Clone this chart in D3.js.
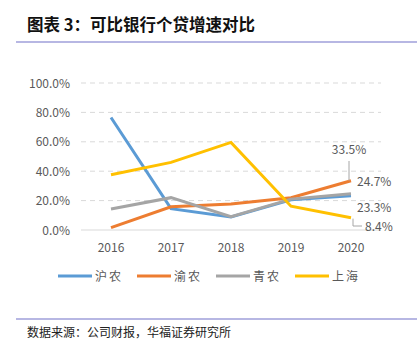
<!DOCTYPE html>
<html>
<head>
<meta charset="utf-8">
<script src="https://cdn.jsdelivr.net/npm/d3@7"></script>
<style>
  body { margin: 0; background: #fff; }
  svg text { font-family: "Noto Sans CJK SC", "Noto Sans", sans-serif; }
</style>
</head>
<body>
<div id="chart"></div>
<script>
const years = ["2016", "2017", "2018", "2019", "2020"];
const huNong = [76.5, 14.5, 8.8, 20.5, 23.3];
const yuNong = [1.6, 15.8, 17.7, 22.0, 33.5];
const qingNong = [14.3, 22.0, 9.0, 21.0, 24.7];
const shangHai = [37.6, 46.0, 59.6, 16.2, 8.4];
const yTicks = [0, 20, 40, 60, 80, 100];

const series = [
    { name: "沪农", values: huNong, color: "#5b9bd5" },
    { name: "渝农", values: yuNong, color: "#ed7d31" },
    { name: "青农", values: qingNong, color: "#a5a5a5" },
    { name: "上海", values: shangHai, color: "#ffc000" },
];

const width = 417, height = 351;
const svg = d3.select("#chart").append("svg")
    .attr("width", width).attr("height", height);

// title + rules
svg.append("text")
    .attr("x", 27).attr("y", 31)
    .style("font-size", "16.5px").style("font-weight", "bold")
    .attr("fill", "#111")
    .text("图表 3：可比银行个贷增速对比");
svg.append("line").attr("x1", 16).attr("x2", 417).attr("y1", 42).attr("y2", 42)
    .attr("stroke", "#7070c8").attr("stroke-width", 1.2);
svg.append("line").attr("x1", 16).attr("x2", 417).attr("y1", 319).attr("y2", 319)
    .attr("stroke", "#7070c8").attr("stroke-width", 1.2);
svg.append("text")
    .attr("x", 27).attr("y", 337)
    .style("font-size", "12px").attr("fill", "#222")
    .text("数据来源：公司财报，华福证券研究所");

const x = d3.scaleBand().domain(years).range([81, 381]);
const y = d3.scaleLinear().domain([0, 100]).range([230, 83]);
const cx = (d) => x(d) + x.bandwidth() / 2;

// grid
svg.append("g").selectAll("line")
    .data(yTicks.filter((t) => t > 0))
    .join("line")
    .attr("x1", 81).attr("x2", 381)
    .attr("y1", (d) => y(d)).attr("y2", (d) => y(d))
    .attr("stroke", "#d9d9d9").attr("stroke-dasharray", "5,4");
svg.append("line").attr("x1", 81).attr("x2", 381)
    .attr("y1", y(0)).attr("y2", y(0)).attr("stroke", "#d9d9d9");

svg.append("g").selectAll("text")
    .data(yTicks).join("text")
    .attr("x", 70).attr("y", (d) => y(d) + 4.5)
    .attr("text-anchor", "end")
    .style("font-size", "12px").attr("fill", "#595959")
    .text((d) => d3.format(".1f")(d) + "%");

svg.append("g").selectAll("text")
    .data(years).join("text")
    .attr("x", (d) => cx(d)).attr("y", 252)
    .attr("text-anchor", "middle")
    .style("font-size", "12px").attr("fill", "#595959")
    .text((d) => d);

const line = d3.line().x((d, i) => cx(years[i])).y((d) => y(d));
svg.append("g").selectAll("path")
    .data(series).join("path")
    .attr("fill", "none")
    .attr("stroke", (d) => d.color)
    .attr("stroke-width", 3)
    .attr("d", (d) => line(d.values));

// end labels
const lastX = cx(years[4]);
const lab = (txt, lx, ly, anchor) => svg.append("text")
    .attr("x", lx).attr("y", ly).attr("text-anchor", anchor || "start")
    .style("font-size", "12px").attr("fill", "#595959").text(txt);
lab(yuNong[4].toFixed(1) + "%", lastX - 2, 154, "middle");
svg.append("line").attr("x1", lastX - 2).attr("x2", lastX - 2)
    .attr("y1", 161).attr("y2", y(yuNong[4]))
    .attr("stroke", "#a6a6a6");
lab(qingNong[4].toFixed(1) + "%", 357, 186);
lab(huNong[4].toFixed(1) + "%", 357, 212);
lab(shangHai[4].toFixed(1) + "%", 365, 231);
svg.append("path")
    .attr("d", `M${lastX + 2},${y(shangHai[4]) + 1}V226H362`)
    .attr("fill", "none").attr("stroke", "#a6a6a6");

// legend
const legendX = [58, 137, 216, 295];
const lg = svg.append("g").selectAll("g").data(series).join("g")
    .attr("transform", (d, i) => `translate(${legendX[i]},276)`);
lg.append("line").attr("x1", 0).attr("x2", 34)
    .attr("stroke", (d) => d.color).attr("stroke-width", 3);
lg.append("text").attr("x", 37).attr("y", 4.5)
    .style("font-size", "12px").style("letter-spacing", "2px")
    .attr("fill", "#595959").text((d) => d.name);
</script>
</body>
</html>
